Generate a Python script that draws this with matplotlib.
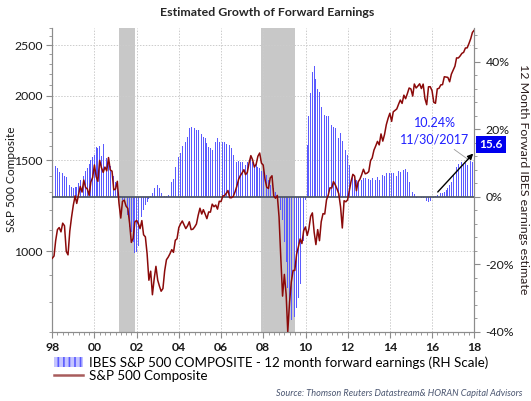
import matplotlib
matplotlib.use('Agg')
import matplotlib.pyplot as plt
import matplotlib.dates as mdates
import matplotlib.ticker as mticker
import matplotlib.patches as mpatches
from matplotlib.lines import Line2D
import pandas as pd

plt.rcParams['font.family'] = ['Lato', 'DejaVu Sans']

# IBES S&P 500 12m forward earnings growth, % y/y, month ends Jan 1998 - Nov 2017
eps_growth = [
    7.4, 9.2, 8.6, 7.4, 7.3, 6.9, 6.2, 5.8, 3.8, 3.4, 2.9, 2.7,            # 1998
    2.8, 3.0, 4.2, 5.0, 4.4, 6.0, 7.5, 8.6, 9.6, 11.0, 11.8, 12.4,         # 1999
    14.6, 14.4, 15.0, 12.0, 15.5, 11.9, 11.4, 11.0, 9.0, 7.2, 6.0, 4.5,    # 2000
    2.5, 1.0, 0.2, -1.0, -1.5, -3.0, -5.5, -9.0, -10.5, -13.5, -16.8, -16.3,  # 2001
    -14.5, -9.0, -6.0, -4.0, -2.5, -1.5, -0.8, 0.3, 1.0, 2.5, 4.5, 3.5,   # 2002
    2.5, 1.2, 0.4, 0.2, 0.2, 0.4, 1.0, 4.3, 5.4, 8.9, 9.6, 11.9,          # 2003
    12.9, 15.0, 15.8, 16.3, 17.8, 20.5, 20.7, 20.6, 20.3, 19.8, 19.8, 19.3,  # 2004
    18.5, 17.8, 17.3, 15.8, 14.8, 14.4, 13.9, 14.4, 16.3, 17.3, 16.3, 16.3,  # 2005
    16.3, 16.3, 15.5, 15.5, 15.3, 14.4, 12.4, 10.6, 10.4, 10.6, 10.4, 10.4,  # 2006
    10.6, 9.4, 10.4, 9.9, 11.4, 10.4, 8.9, 9.9, 8.9, 8.4, 7.5, 8.5,       # 2007
    7.4, 6.4, 5.0, 3.5, 3.0, 2.5, 1.5, 0.5, -2.5, -4.0, -7.0, -13.4,      # 2008
    -19.3, -27.0, -33.0, -36.6, -37.0, -35.5, -33.0, -30.0, -26.0, -21.0, -13.0, -1.0,  # 2009
    15.3, 23.8, 30.7, 37.0, 38.6, 35.0, 32.0, 31.0, 26.7, 26.0, 24.3, 24.0,  # 2010
    23.8, 22.8, 21.3, 20.8, 20.3, 18.8, 17.3, 18.8, 16.5, 13.9, 13.9, 12.4,  # 2011
    9.4, 7.4, 6.4, 5.4, 5.0, 4.5, 3.5, 5.0, 5.6, 5.6, 5.9, 5.4,           # 2012
    5.0, 5.5, 5.3, 5.0, 5.7, 5.0, 5.3, 6.4, 6.2, 7.1, 6.4, 7.1,           # 2013
    7.1, 6.9, 6.4, 6.2, 7.6, 7.2, 7.4, 7.9, 8.2, 7.2, 4.5, 3.5,           # 2014
    1.5, 0.9, -0.5, 0.0, 0.0, -0.3, -0.3, -1.0, -1.3, -1.5, -1.3, 0.0,    # 2015
    -0.3, 0.3, 0.5, 0.5, 1.0, 1.0, 1.5, 2.0, 2.5, 3.5, 4.5, 6.4,          # 2016
    7.4, 8.9, 9.6, 9.9, 10.2, 9.4, 9.9, 9.4, 9.6, 10.6, 10.24,            # 2017
]

# S&P 500 Composite, month ends Dec 1997 - Dec 2017
spx = [
    970,
    980, 1049, 1102, 1112, 1091, 1134, 1121, 1000, 985, 1095, 1164, 1229,
    1280, 1238, 1286, 1335, 1302, 1373, 1329, 1320, 1283, 1363, 1389, 1469,
    1394, 1366, 1499, 1452, 1421, 1455, 1431, 1518, 1437, 1429, 1315, 1320,
    1366, 1240, 1160, 1250, 1256, 1224, 1211, 1134, 1041, 1060, 1140, 1148,
    1130, 1107, 1147, 1077, 1067, 990, 880, 916, 825, 886, 936, 880,
    856, 838, 848, 917, 964, 975, 990, 1008, 996, 1051, 1058, 1112,
    1131, 1145, 1126, 1107, 1121, 1141, 1102, 1104, 1115, 1130, 1174, 1212,
    1181, 1204, 1181, 1157, 1192, 1191, 1234, 1220, 1229, 1207, 1250, 1248,
    1280, 1281, 1295, 1311, 1270, 1270, 1277, 1304, 1336, 1378, 1401, 1418,
    1438, 1407, 1421, 1482, 1531, 1503, 1455, 1474, 1527, 1549, 1481, 1468,
    1379, 1331, 1323, 1386, 1400, 1280, 1267, 1283, 1166, 969, 820, 903,
    826, 700, 798, 873, 919, 919, 988, 1021, 1057, 1036, 1096, 1115,
    1074, 1105, 1169, 1187, 1089, 1031, 1102, 1049, 1141, 1183, 1181, 1258,
    1286, 1327, 1326, 1364, 1345, 1321, 1292, 1219, 1110, 1253, 1247, 1258,
    1312, 1366, 1409, 1398, 1310, 1362, 1379, 1407, 1441, 1412, 1416, 1426,
    1498, 1515, 1569, 1598, 1631, 1606, 1686, 1633, 1682, 1757, 1806, 1848,
    1783, 1860, 1872, 1884, 1924, 1960, 1931, 2003, 1972, 2018, 2068, 2059,
    1995, 2105, 2068, 2086, 2107, 2063, 2104, 1972, 1920, 2079, 2080, 2044,
    1940, 1932, 2060, 2065, 2097, 2099, 2174, 2171, 2168, 2126, 2199, 2239,
    2279, 2364, 2363, 2384, 2412, 2423, 2470, 2472, 2519, 2575, 2648, 2674,
]

recessions = [('2001-03-01', '2001-11-30'), ('2007-12-01', '2009-06-30')]
left_ticks = [1000, 1500, 2000, 2500]
right_ticks = [-40, -20, 0, 20, 40]

eps_dates = pd.date_range('1998-01-31', periods=len(eps_growth), freq='ME')
spx_dates = pd.date_range('1997-12-31', periods=len(spx), freq='ME')

BAR = '#5a5aff'
LINE = '#8b0a0a'
GRAY = '#8c8c8c'
TXT = '#1a1a1a'

fig = plt.figure(figsize=(5.31, 4.01), dpi=100)
W, H = 531, 401
ax = fig.add_axes([52.3 / W, 1 - 331.7 / H, 422 / W, 303.7 / H])

# left axis (log S&P) - holds grid and recession shading
ax.set_yscale('log')
ax.set_ylim(700, 2700)
ax.set_xlim(pd.Timestamp('1998-01-01'), pd.Timestamp('2018-01-01'))
for start, end in recessions:
    ax.axvspan(pd.Timestamp(start), pd.Timestamp(end), color='#c8c8c8', lw=0, zorder=1)
ax.yaxis.set_major_locator(mticker.FixedLocator(left_ticks))
ax.yaxis.set_minor_locator(mticker.FixedLocator(range(700, 2701, 100)))
ax.yaxis.set_major_formatter(mticker.FuncFormatter(lambda v, p: f'{v:.0f}'))
ax.yaxis.set_minor_formatter(mticker.NullFormatter())
ax.xaxis.set_major_locator(mdates.YearLocator(2))
ax.xaxis.set_minor_locator(mdates.MonthLocator(bymonth=[1, 4, 7, 10]))
ax.xaxis.set_major_formatter(mdates.DateFormatter('%y'))
ax.grid(True, which='major', ls=(0, (1.5, 1.5)), color='#cccccc', lw=0.7, zorder=0)
ax.tick_params(axis='y', which='major', length=4, color=GRAY, labelsize=8.8,
               labelcolor=TXT, pad=3)
ax.tick_params(axis='y', which='minor', length=2.5, color=GRAY)
ax.tick_params(axis='x', which='major', length=4, color=GRAY, labelsize=8.8,
               labelcolor=TXT, pad=3.5)
ax.tick_params(axis='x', which='minor', length=2.5, color=GRAY)
for lab in ax.get_xticklabels():
    lab.set_fontweight('bold')
ax.spines['top'].set_visible(False)
for s in ['left', 'right', 'bottom']:
    ax.spines[s].set_color(GRAY)

# right axis (% growth bars)
ax2 = ax.twinx()
ax2.bar(eps_dates, eps_growth, width=14, color=BAR, lw=0, zorder=2)
ax2.axhline(0, color='#505868', lw=1.3, zorder=3)
ax2.set_ylim(-40, 50)
ax2.yaxis.set_major_locator(mticker.FixedLocator(right_ticks))
ax2.yaxis.set_minor_locator(mticker.MultipleLocator(4))
ax2.yaxis.set_major_formatter(mticker.FuncFormatter(lambda v, p: f'{v:.0f}%'))
ax2.tick_params(axis='y', which='major', length=4, color=GRAY, labelsize=8.8,
                labelcolor=TXT, pad=4)
ax2.tick_params(axis='y', which='minor', length=2.5, color=GRAY)
ax2.spines['top'].set_visible(False)
for s in ['left', 'right', 'bottom']:
    ax2.spines[s].set_color(GRAY)

# top layer: S&P line on same log scale
ax3 = ax.twinx()
ax3.set_yscale('log')
ax3.set_ylim(700, 2700)
ax3.plot(spx_dates, spx, color=LINE, lw=1.1)
ax3.axis('off')

# annotation of last reading
ax2.annotate('', xy=(pd.Timestamp('2017-12-13'), 12.8),
             xytext=(pd.Timestamp('2016-04-08'), 1.4),
             arrowprops=dict(arrowstyle='-|>', color='black', lw=1.0,
                             mutation_scale=8, shrinkA=0, shrinkB=0))
ax2.plot([pd.Timestamp('2017-01-19'), pd.Timestamp('2017-09-20')], [14.0, 11.0],
         color='#9a9a9a', lw=0.6)
ax2.text(pd.Timestamp('2016-02-20'), 21.7, f'{eps_growth[-1]:.2f}%', color='#1f1fff',
         fontsize=9, ha='center', va='center')
ax2.text(pd.Timestamp('2016-02-20'), 16.9, '11/30/2017', color='#1f1fff',
         fontsize=9, ha='center', va='center')
ax2.text(1.012, 15.6, '15.6', transform=ax2.get_yaxis_transform(), color='white',
         fontsize=8.5, fontweight='bold', ha='left', va='center', clip_on=False,
         bbox=dict(boxstyle='square,pad=0.25', fc='#0000ee', ec='none'))

# titles and labels
fig.text(267 / W, 1 - 12 / H, 'Estimated Growth of Forward Earnings', ha='center',
         va='center', fontsize=8.9, fontweight='bold', color='#262626')
fig.text(11.3 / W, 1 - 179 / H, 'S&P 500 Composite', rotation=90, ha='center',
         va='center', fontsize=8.6, color=TXT)
fig.text(523 / W, 1 - 179 / H, '12 Month Forward IBES earnings estimate', rotation=270,
         ha='center', va='center', fontsize=8.9, color='#2a1c1c')
fig.text(522 / W, 1 - 393.3 / H,
         'Source: Thomson Reuters Datastream& HORAN Capital Advisors',
         ha='right', va='center', fontsize=6.6, style='italic', color='#4a5570')

# legend
plt.rcParams['hatch.linewidth'] = 1.2
handles = [mpatches.Patch(facecolor='#c4c4ff', edgecolor=BAR, hatch='|||', lw=0),
           Line2D([], [], color='#a85c5c', lw=1.8)]
labels = ['IBES S&P 500 COMPOSITE - 12 month forward earnings (RH Scale)',
          'S&P 500 Composite']
fig.legend(handles, labels, loc='upper left', bbox_to_anchor=(54 / W, 1 - 356 / H),
           frameon=False, fontsize=9.6, handlelength=2.2, handleheight=0.8,
           handletextpad=0.4, labelspacing=0.08, borderpad=0, borderaxespad=0)

fig.savefig('out.png', dpi=100)
